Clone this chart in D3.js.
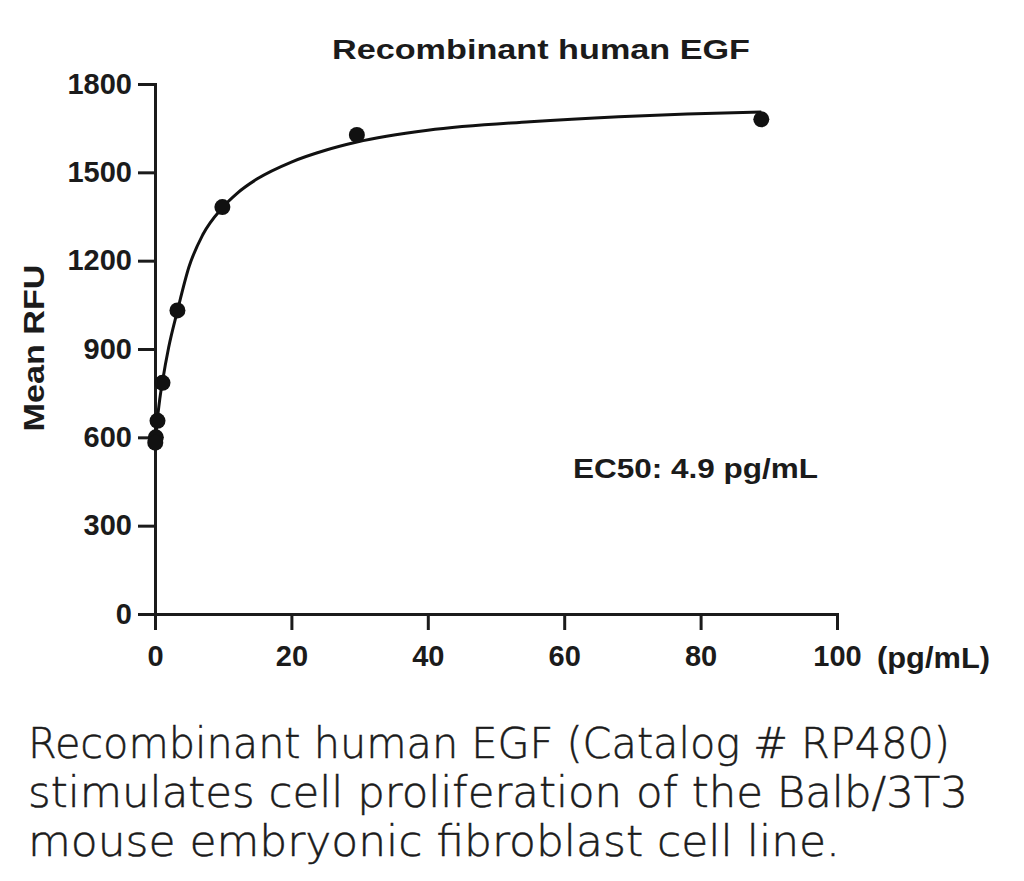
<!DOCTYPE html>
<html>
  <head>
    <meta charset="utf-8" />
    <script src="https://cdn.jsdelivr.net/npm/d3@7"></script>
    <style>
      body { margin: 0; background: #fff; }
      svg text { fill: #1b1b1b; }
      .lab { font-family: 'Liberation Sans', Arial, sans-serif; font-weight: bold; }
      .cap { font-family: 'DejaVu Sans', sans-serif; font-weight: 200; stroke: #1b1b1b; stroke-width: 0.5; }
    </style>
  </head>
  <body>
    <svg id="chart"></svg>
    <script>
      // dose (pg/mL) and response
      const doses = [88.9, 29.6, 9.88, 3.29, 1.10, 0.366, 0.122, 0.041]
      const rfu = [1680, 1627, 1382, 1031, 785, 656, 600, 582]

      // fitted curve
      const fitX = [0.04, 0.3, 0.7, 1.1, 2, 3.29, 5, 7, 9.88, 12, 15, 20, 25, 29.6, 40, 55, 68, 78, 88.9]
      const fitY = [585, 650, 730, 790, 905, 1030, 1180, 1288, 1380, 1428, 1478, 1535, 1575, 1603, 1643, 1672, 1689, 1698, 1705]

      const xTicks = [0, 20, 40, 60, 80, 100]
      const yTicks = [0, 300, 600, 900, 1200, 1500, 1800]

      const captionLines = [
        "Recombinant human EGF (Catalog # RP480)",
        "stimulates cell proliferation of the Balb/3T3",
        "mouse embryonic fibroblast cell line."
      ]
      const captionWidths = [922, 940, 812]

      const width = 1024
      const height = 881

      const x = d3.scaleLinear().domain([0, 100]).range([155, 837])
      const y = d3.scaleLinear().domain([0, 1800]).range([614, 84])

      const svg = d3.select("#chart")
        .attr("width", width)
        .attr("height", height)

      const styleAxis = g => {
        g.select(".domain").attr("stroke", "#1b1b1b").attr("stroke-width", 3)
        g.selectAll(".tick line").attr("stroke", "#1b1b1b").attr("stroke-width", 3)
        g.selectAll(".tick text")
          .attr("class", "lab")
          .style("font-size", "29px")
          .attr("fill", "#1b1b1b")
      }

      svg.append("g")
        .attr("transform", `translate(0,${y(0)})`)
        .call(d3.axisBottom(x).tickValues(xTicks).tickFormat(d3.format("d"))
          .tickSizeInner(16).tickSizeOuter(16).tickPadding(15))
        .call(styleAxis)

      svg.append("g")
        .attr("transform", `translate(${x(0)},0)`)
        .call(d3.axisLeft(y).tickValues(yTicks).tickFormat(d3.format("d"))
          .tickSizeInner(17).tickSizeOuter(17).tickPadding(6))
        .call(styleAxis)

      const line = d3.line()
        .x(d => x(d[0]))
        .y(d => y(d[1]))
        .curve(d3.curveMonotoneX)

      svg.append("path")
        .datum(d3.zip(fitX, fitY))
        .attr("d", line)
        .attr("fill", "none")
        .attr("stroke", "#111")
        .attr("stroke-width", 3)

      svg.append("g")
        .selectAll("circle")
        .data(d3.zip(doses, rfu))
        .join("circle")
          .attr("cx", d => x(d[0]))
          .attr("cy", d => y(d[1]))
          .attr("r", 8)
          .attr("fill", "#111")

      svg.append("text")
        .attr("class", "lab")
        .attr("x", 541).attr("y", 59)
        .attr("text-anchor", "middle")
        .style("font-size", "27px")
        .attr("textLength", 418)
        .attr("lengthAdjust", "spacingAndGlyphs")
        .text("Recombinant human EGF")

      svg.append("text")
        .attr("class", "lab")
        .attr("transform", "translate(44,348) rotate(-90)")
        .attr("text-anchor", "middle")
        .style("font-size", "30px")
        .attr("textLength", 167)
        .attr("lengthAdjust", "spacingAndGlyphs")
        .text("Mean RFU")

      svg.append("text")
        .attr("class", "lab")
        .attr("x", 877).attr("y", 668)
        .style("font-size", "29px")
        .attr("textLength", 113)
        .attr("lengthAdjust", "spacingAndGlyphs")
        .text("(pg/mL)")

      svg.append("text")
        .attr("class", "lab")
        .attr("x", 573).attr("y", 478)
        .style("font-size", "28px")
        .attr("textLength", 245)
        .attr("lengthAdjust", "spacingAndGlyphs")
        .text("EC50: 4.9 pg/mL")

      svg.append("g")
        .selectAll("text")
        .data(captionLines)
        .join("text")
          .attr("class", "cap")
          .attr("x", 28)
          .attr("y", (d, i) => 758 + i * 49)
          .style("font-size", "43px")
          .attr("textLength", (d, i) => captionWidths[i])
          .attr("lengthAdjust", "spacingAndGlyphs")
          .text(d => d)
    </script>
  </body>
</html>
